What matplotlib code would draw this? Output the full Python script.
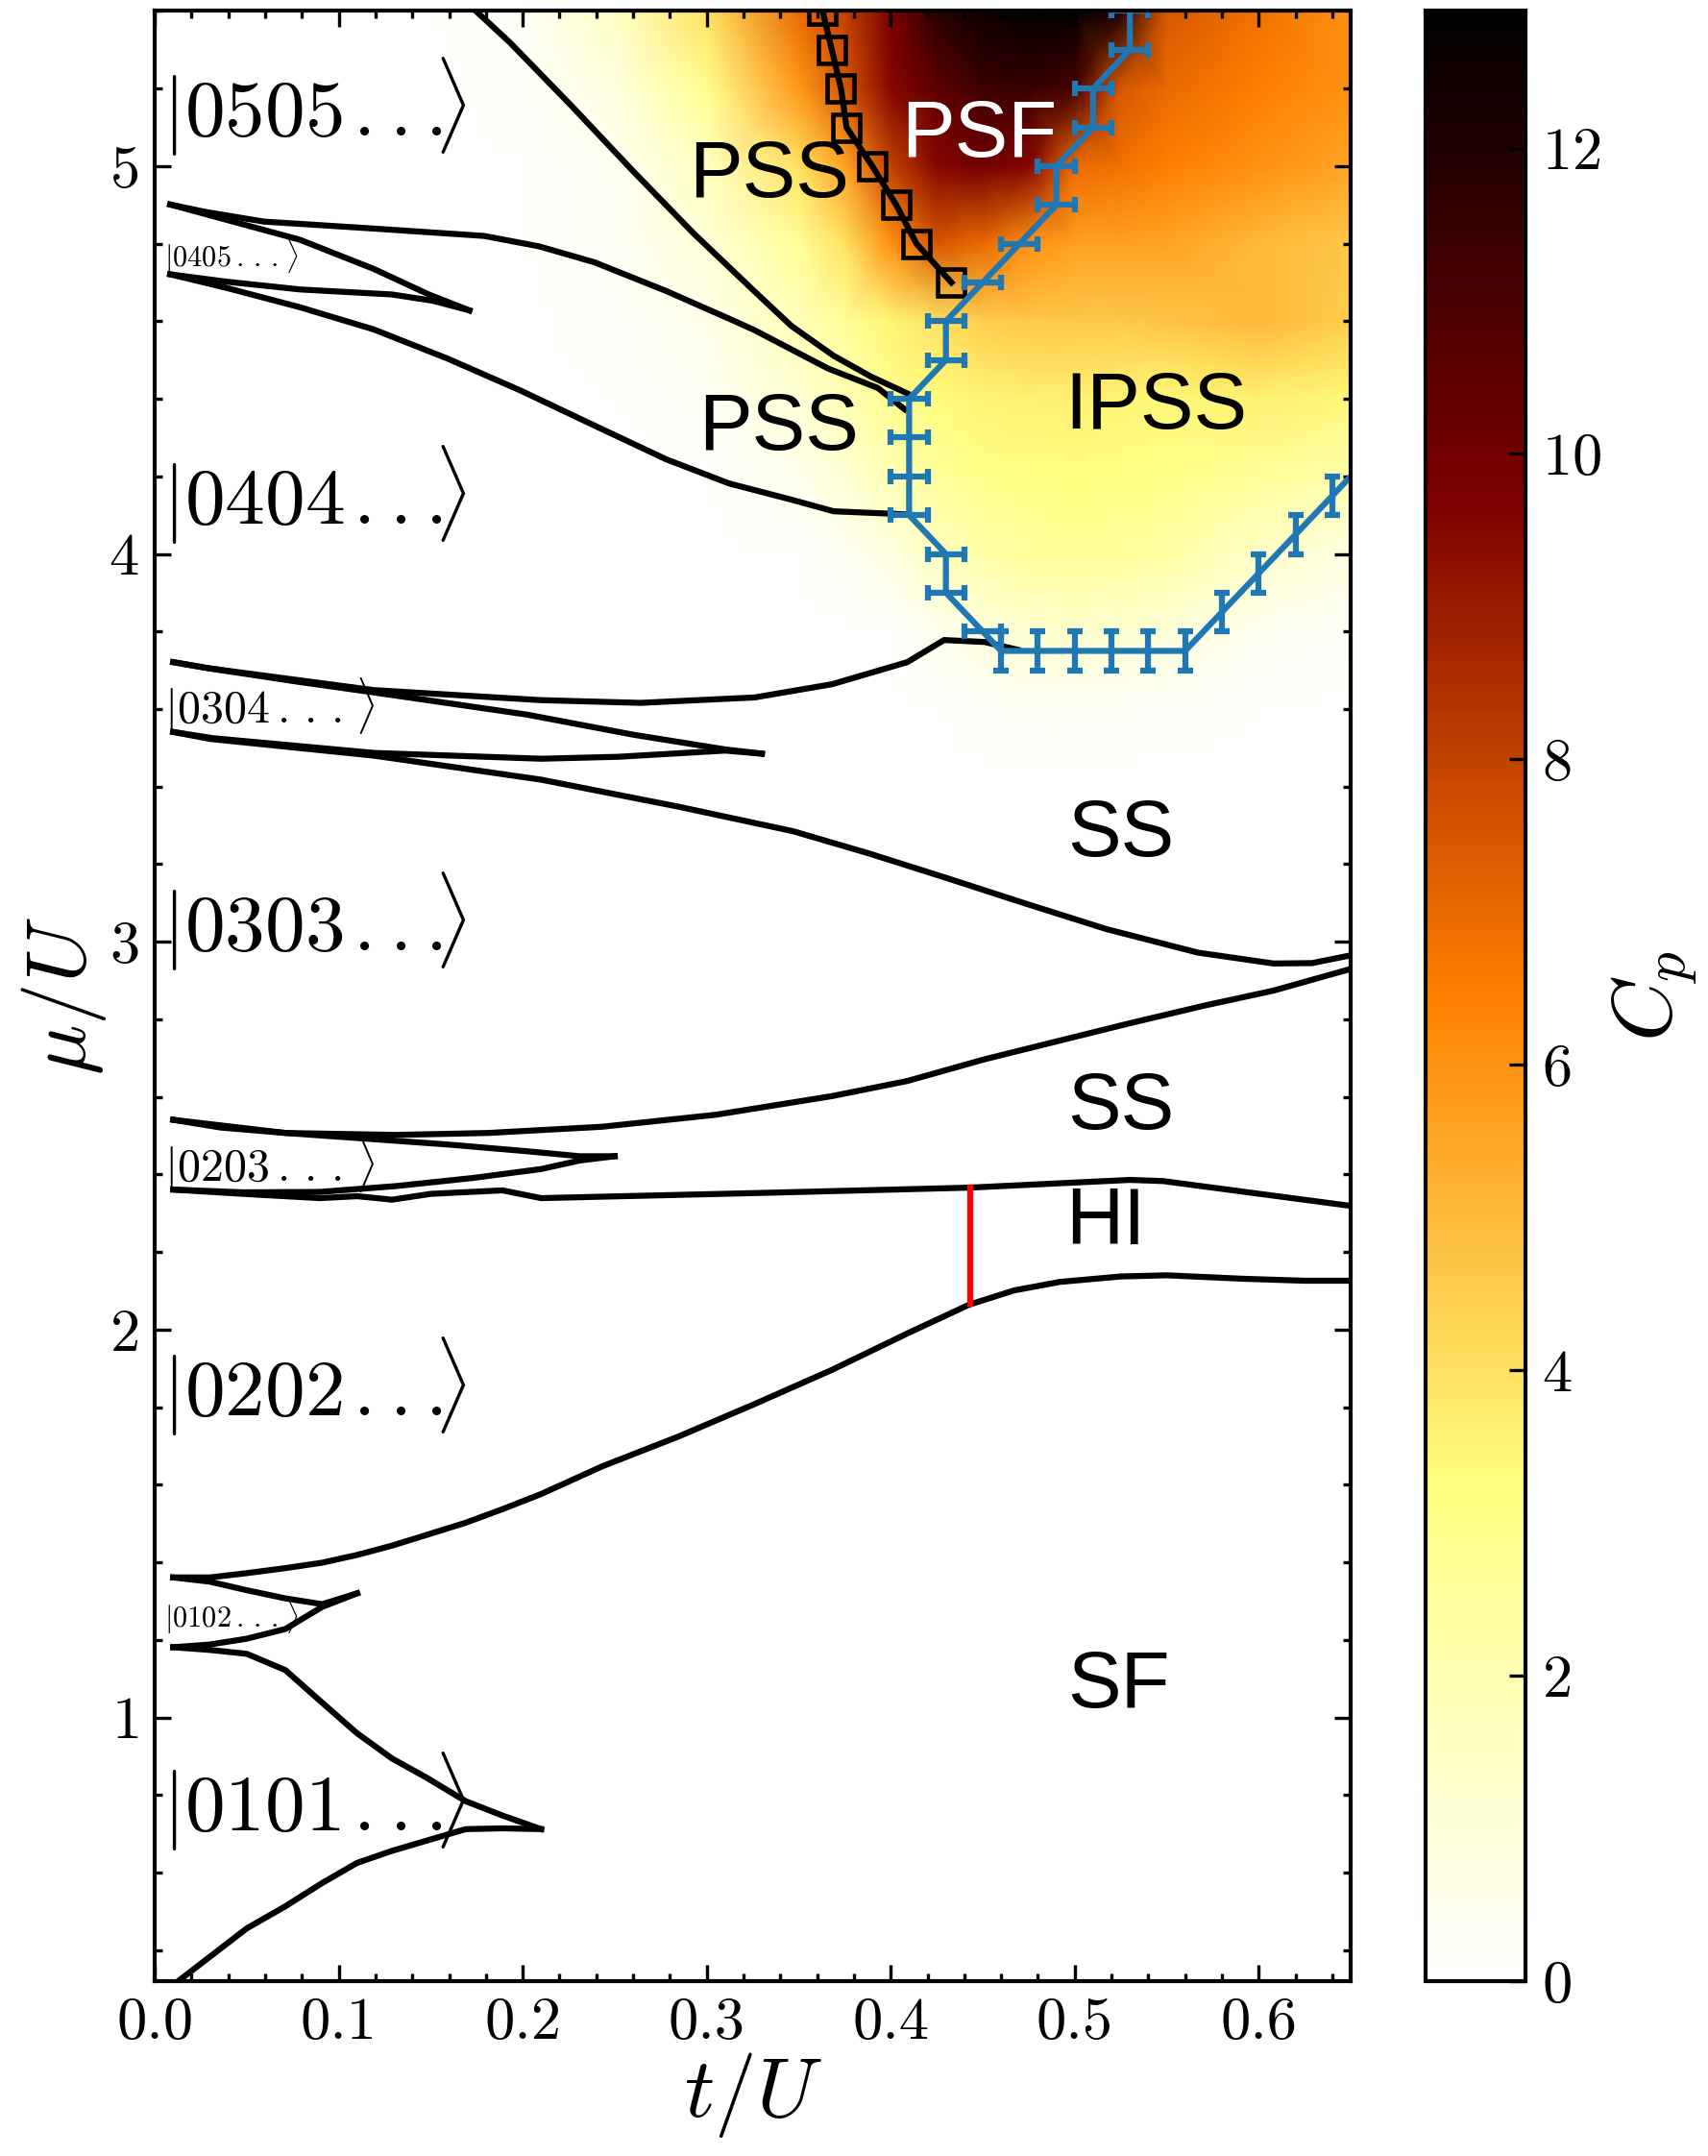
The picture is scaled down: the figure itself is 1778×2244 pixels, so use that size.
import matplotlib
matplotlib.use('Agg')
import matplotlib.pyplot as plt
import numpy as np
from matplotlib.ticker import MultipleLocator

plt.rcParams['font.family'] = 'serif'
plt.rcParams['font.serif'] = ['cmr10']
plt.rcParams['mathtext.fontset'] = 'cm'
plt.rcParams['axes.formatter.use_mathtext'] = True
plt.rcParams['axes.unicode_minus'] = False

# ---------- C_p map (rows = mu, cols = t) ----------
t_grid = [0.0, 0.1, 0.15, 0.2, 0.25, 0.3, 0.35, 0.375, 0.4, 0.425, 0.45, 0.475,
          0.5, 0.525, 0.55, 0.6, 0.65]
mu_grid = [3.4, 3.6, 3.8, 4.0, 4.2, 4.4, 4.6, 4.8, 5.0, 5.2, 5.4]
cp_grid = [
    [0, 0, 0, 0, 0, 0, 0, 0, 0, 0, 0, 0, 0, 0, 0, 0, 0],
    [0, 0, 0, 0, 0, 0, 0, 0, 0.05, 0.1, 0.2, 0.3, 0.3, 0.25, 0.2, 0.1, 0.05],
    [0, 0, 0, 0, 0, 0, 0, 0.05, 0.1, 0.5, 0.9, 1.2, 1.3, 1.2, 1.0, 0.4, 0.2],
    [0, 0, 0, 0, 0, 0, 0.1, 0.4, 0.8, 1.6, 2.2, 2.5, 2.6, 2.5, 2.3, 1.4, 0.8],
    [0, 0, 0, 0, 0, 0.1, 0.5, 1.1, 1.9, 2.6, 3.0, 3.1, 3.2, 3.1, 3.0, 2.6, 2.1],
    [0, 0, 0, 0, 0.1, 0.3, 1.1, 1.9, 2.8, 3.3, 3.5, 3.6, 3.6, 3.5, 3.4, 3.6, 3.4],
    [0, 0, 0, 0.05, 0.2, 0.6, 1.8, 2.6, 3.5, 4.0, 4.5, 4.6, 4.6, 4.6, 4.7, 5.0, 4.5],
    [0, 0, 0, 0.1, 0.3, 1.0, 2.6, 4.0, 6.0, 7.5, 7.0, 6.0, 5.6, 5.6, 5.5, 5.0, 4.6],
    [0, 0, 0, 0.1, 0.4, 1.6, 4.0, 5.5, 8.0, 9.5, 10.0, 9.5, 7.0, 6.8, 6.5, 6.0, 5.5],
    [0, 0, 0.05, 0.2, 0.8, 2.8, 5.8, 7.5, 9.5, 10.5, 11.3, 11.5, 11.0, 7.5, 7.0, 6.5, 6.0],
    [0, 0, 0.1, 0.3, 1.5, 4.0, 7.0, 8.0, 9.8, 11.8, 12.5, 12.9, 12.9, 12.0, 7.5, 6.8, 6.0],
]

# ---------- phase boundaries (t/U, mu/U) ----------
boundaries = [
    # |0101> lobe
    ([0.01, 0.050, 0.071, 0.091, 0.110, 0.129, 0.169, 0.189, 0.210],
     [0.31, 0.456, 0.513, 0.573, 0.625, 0.656, 0.712, 0.714, 0.712]),
    ([0.210, 0.189, 0.169, 0.148, 0.129, 0.110, 0.091, 0.071, 0.050, 0.030, 0.01],
     [0.712, 0.747, 0.784, 0.844, 0.894, 0.959, 1.038, 1.122, 1.164, 1.174, 1.181]),
    # |0102> lobe
    ([0.01, 0.030, 0.050, 0.071, 0.091, 0.110],
     [1.181, 1.188, 1.203, 1.228, 1.285, 1.320]),
    ([0.01, 0.030, 0.050, 0.071, 0.091, 0.110],
     [1.361, 1.350, 1.328, 1.307, 1.292, 1.320]),
    # SF / |0202> / HI lower edge
    ([0.01, 0.030, 0.050, 0.071, 0.091, 0.110, 0.129, 0.148, 0.169, 0.189, 0.210, 0.243,
      0.285, 0.326, 0.368, 0.409, 0.4425, 0.467, 0.492, 0.525, 0.550, 0.592, 0.625, 0.65],
     [1.361, 1.361, 1.372, 1.385, 1.399, 1.419, 1.443, 1.471, 1.502, 1.537, 1.576, 1.647,
      1.725, 1.808, 1.896, 1.990, 2.064, 2.101, 2.123, 2.137, 2.140, 2.131, 2.126, 2.126]),
    # HI upper edge
    ([0.01, 0.048, 0.0897, 0.110, 0.129, 0.150, 0.189, 0.210, 0.326, 0.4425, 0.530, 0.548, 0.65],
     [2.361, 2.350, 2.339, 2.344, 2.335, 2.350, 2.359, 2.339, 2.352, 2.366, 2.386, 2.383, 2.319]),
    # |0203> lobe
    ([0.01, 0.0315, 0.0711, 0.119, 0.160, 0.202, 0.231, 0.250],
     [2.541, 2.529, 2.507, 2.491, 2.477, 2.460, 2.447, 2.447]),
    ([0.01, 0.048, 0.0897, 0.131, 0.173, 0.210, 0.231, 0.250],
     [2.361, 2.354, 2.355, 2.370, 2.391, 2.414, 2.436, 2.447]),
    # SS (lower) upper edge
    ([0.01, 0.0358, 0.0711, 0.131, 0.181, 0.243, 0.305, 0.368, 0.409, 0.451, 0.530, 0.571, 0.608, 0.65],
     [2.541, 2.521, 2.507, 2.502, 2.507, 2.523, 2.554, 2.602, 2.641, 2.697, 2.790, 2.836, 2.874, 2.93]),
    # SS (upper) lower edge
    ([0.01, 0.03, 0.119, 0.210, 0.285, 0.347, 0.388, 0.430, 0.471, 0.517, 0.567, 0.608, 0.629, 0.65],
     [3.541, 3.523, 3.480, 3.418, 3.348, 3.285, 3.228, 3.165, 3.102, 3.033, 2.972, 2.944, 2.945, 2.965]),
    # |0304> lobe
    ([0.01, 0.0316, 0.119, 0.210, 0.252, 0.310, 0.330],
     [3.541, 3.525, 3.487, 3.472, 3.477, 3.493, 3.485]),
    ([0.01, 0.0296, 0.077, 0.119, 0.202, 0.260, 0.310, 0.330],
     [3.721, 3.705, 3.671, 3.643, 3.586, 3.534, 3.496, 3.485]),
    # |0404> lower edge
    ([0.01, 0.0296, 0.119, 0.210, 0.264, 0.326, 0.368, 0.409, 0.429, 0.451, 0.469],
     [3.721, 3.705, 3.649, 3.623, 3.616, 3.630, 3.664, 3.721, 3.778, 3.773, 3.753]),
    # |0404> upper edge (lower PSS)
    ([0.0084, 0.039, 0.079, 0.119, 0.159, 0.199, 0.239, 0.278, 0.312, 0.346, 0.369, 0.409],
     [4.721, 4.686, 4.636, 4.579, 4.504, 4.421, 4.331, 4.244, 4.182, 4.140, 4.110, 4.102]),
    # |0405> lobe
    ([0.0084, 0.039, 0.079, 0.129, 0.151, 0.171],
     [4.721, 4.702, 4.682, 4.669, 4.653, 4.628]),
    ([0.0084, 0.079, 0.119, 0.149, 0.171],
     [4.901, 4.810, 4.735, 4.669, 4.628]),
    # |0505> lower edge
    ([0.0084, 0.0275, 0.0593, 0.119, 0.179, 0.209, 0.239, 0.278, 0.312, 0.326, 0.366, 0.393, 0.4076],
     [4.901, 4.882, 4.857, 4.839, 4.820, 4.793, 4.752, 4.678, 4.607, 4.577, 4.478, 4.428, 4.373]),
    # PSS upper edge
    ([0.170, 0.193, 0.227, 0.260, 0.293, 0.326, 0.346, 0.369, 0.389, 0.409],
     [5.42, 5.319, 5.153, 4.987, 4.826, 4.677, 4.588, 4.511, 4.458, 4.414]),
]

# PSS / PSF boundary (squares)
t_psf = [0.363, 0.368, 0.373, 0.376, 0.390, 0.403, 0.414, 0.433]
mu_psf = [5.4, 5.3, 5.2, 5.1, 5.0, 4.9, 4.8, 4.7]

# IPSS boundary: t-scans (x error) then mu-scans (y error)
t_ipss_x = [0.53, 0.53, 0.51, 0.51, 0.49, 0.49, 0.47, 0.45, 0.43, 0.43, 0.41, 0.41, 0.41, 0.41, 0.43, 0.43, 0.45]
mu_ipss_x = [5.4, 5.3, 5.2, 5.1, 5.0, 4.9, 4.8, 4.7, 4.6, 4.5, 4.4, 4.3, 4.2, 4.1, 4.0, 3.9, 3.8]
t_ipss_y = [0.46, 0.48, 0.50, 0.52, 0.54, 0.56, 0.58, 0.60, 0.62, 0.64, 0.66]
mu_ipss_y = [3.75, 3.75, 3.75, 3.75, 3.75, 3.75, 3.85, 3.95, 4.05, 4.15, 4.25]
t_err = 0.01
mu_err = 0.05

# HI / SF boundary (red)
t_red = [0.443, 0.443]
mu_red = [2.066, 2.366]

phase_labels = [('PSS', 0.334, 4.975, 'black'), ('PSF', 0.448, 5.078, 'white'),
                ('PSS', 0.339, 4.323, 'black'), ('IPSS', 0.544, 4.379, 'black'),
                ('SS', 0.525, 3.276, 'black'), ('SS', 0.525, 2.573, 'black'),
                ('HI', 0.517, 2.275, 'black'), ('SF', 0.524, 1.081, 'black')]
big_kets = [('0505', 5.153), ('0404', 4.152), ('0303', 3.051), ('0202', 1.853), ('0101', 0.783)]
small_kets = [('0405', 4.766, 7.3), ('0304', 3.608, 11.5), ('0203', 2.426, 11.5), ('0102', 1.259, 7.3)]

# ---------- figure ----------
fig = plt.figure(figsize=(1778 / 300, 2244 / 300), dpi=300)
ax = fig.add_axes([0.0906, 0.0811, 0.7002, 0.9138])
cax = fig.add_axes([0.8346, 0.0811, 0.0585, 0.9138])

mesh = ax.pcolormesh(t_grid, mu_grid, np.array(cp_grid), shading='gouraud',
                     cmap='afmhot_r', vmin=0, vmax=12.9, rasterized=True)

lw = 1.5
for t, mu in boundaries:
    ax.plot(t, mu, color='black', lw=lw)

ax.plot(t_red, mu_red, color='red', lw=lw)

ax.plot(t_psf, mu_psf, color='black', lw=lw, marker='s', ms=6.5,
        mfc='none', mec='black', mew=1.1)

blue = '#1f77b4'
ax.plot(t_ipss_x + t_ipss_y, mu_ipss_x + mu_ipss_y, color=blue, lw=lw)
ax.errorbar(t_ipss_x, mu_ipss_x, xerr=t_err, fmt='none', ecolor=blue,
            elinewidth=lw, capsize=2, capthick=lw)
ax.errorbar(t_ipss_y, mu_ipss_y, yerr=mu_err, fmt='none', ecolor=blue,
            elinewidth=lw, capsize=2, capthick=lw)

for txt, t, mu, c in phase_labels:
    ax.text(t, mu, txt, color=c, fontsize=20, family='Liberation Sans',
            ha='center', va='center')
for digits, mu in big_kets:
    ax.text(0.004, mu, r'$|%s\hspace{0.12}...\hspace{-0.38}\rangle$' % digits,
            fontsize=20, ha='left', va='center')
for digits, mu, fs in small_kets:
    ax.text(0.005, mu, r'$|%s\hspace{0.2}.\hspace{0.15}.\hspace{0.15}.\hspace{0.1}\rangle$' % digits,
            fontsize=fs, ha='left', va='center')

ax.set_xlim(0, 0.65)
ax.set_ylim(0.32, 5.4)
ax.xaxis.set_major_locator(MultipleLocator(0.1))
ax.xaxis.set_minor_locator(MultipleLocator(0.02))
ax.yaxis.set_major_locator(MultipleLocator(1))
ax.yaxis.set_minor_locator(MultipleLocator(0.2))
ax.xaxis.set_major_formatter(plt.FuncFormatter(lambda v, p: '%.1f' % v))
ax.tick_params(which='both', direction='in', top=True, right=True, labelsize=15)
ax.tick_params(which='major', length=4, width=0.8, pad=4)
ax.tick_params(which='minor', length=2, width=0.8)
for s in ax.spines.values():
    s.set_linewidth(1.0)

ax.set_xlabel(r'$t/U$', fontsize=21, labelpad=0)
ax.set_ylabel(r'$\mu/U$', fontsize=21, labelpad=0)

cb = fig.colorbar(mesh, cax=cax)
cb.set_ticks([0, 2, 4, 6, 8, 10, 12])
cb.ax.tick_params(direction='in', length=4, width=0.8, labelsize=15, pad=4)
cb.outline.set_linewidth(1.0)
cb.set_label(r'$C_p$', fontsize=21, labelpad=2)

fig.savefig('out.png', dpi=300)
